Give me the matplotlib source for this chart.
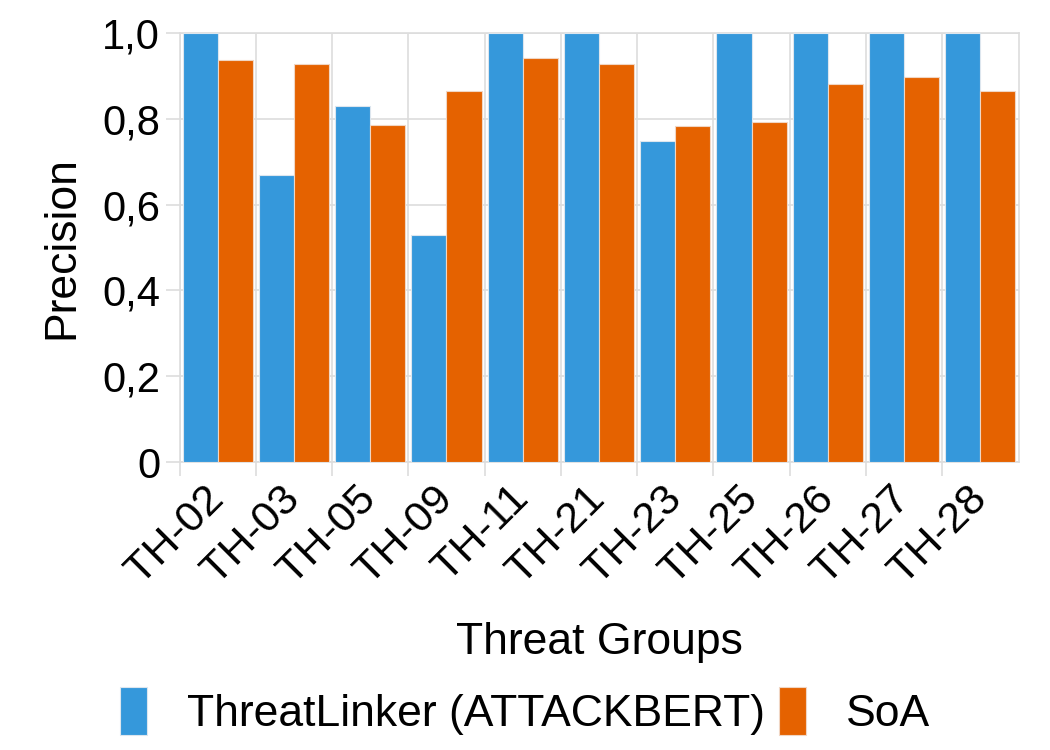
import matplotlib.pyplot as plt
import numpy as np

plt.rcParams['font.family'] = ['Liberation Sans', 'DejaVu Sans']

groups = ['TH-02', 'TH-03', 'TH-05', 'TH-09', 'TH-11', 'TH-21',
          'TH-23', 'TH-25', 'TH-26', 'TH-27', 'TH-28']
threatlinker = [1.0, 0.669, 0.830, 0.529, 1.0, 1.0, 0.748, 1.0, 1.0, 1.0, 1.0]
soa = [0.937, 0.928, 0.786, 0.865, 0.942, 0.928, 0.783, 0.793, 0.881, 0.897, 0.865]

blue = '#3598db'
orange = '#e56200'

fig = plt.figure(figsize=(10.5, 7.5), dpi=100)
ax = fig.add_axes([0.171, 0.384, 0.799, 0.572])

x = np.arange(len(groups))
w = 0.46
ax.bar(x - w / 2, threatlinker, w, color=blue, edgecolor='#dde6ee', linewidth=0.8,
       label='ThreatLinker (ATTACKBERT)', zorder=3)
ax.bar(x + w / 2, soa, w, color=orange, edgecolor='#f0d6c4', linewidth=0.8,
       label='SoA', zorder=3)

ax.set_xlim(-0.5, len(groups) - 0.5)
ax.set_ylim(0, 1.0)
ax.set_yticks([0, 0.2, 0.4, 0.6, 0.8, 1.0])
ax.set_yticklabels(['0', '0,2', '0,4', '0,6', '0,8', '1,0'], fontsize=30)

# grid lines between groups
ax.set_xticks(x - 0.5, minor=True)
ax.set_xticks(x)
ax.set_xticklabels(groups, rotation=45, ha='right', va='center',
                   rotation_mode='anchor', fontsize=31)
ax.tick_params(axis='x', which='major', length=0, pad=22)
ax.tick_params(axis='x', which='minor', length=10, color='#dddddd', width=1.2)
ax.tick_params(axis='y', length=10, color='#dddddd', width=1.2, pad=4)
ax.grid(True, axis='y', color='#dddddd', linewidth=1.2, zorder=0)
ax.grid(True, axis='x', which='minor', color='#dddddd', linewidth=1.2, zorder=0)

for s in ax.spines.values():
    s.set_color('#dddddd')
    s.set_linewidth(1.2)

ax.set_ylabel('Precision', fontsize=32, labelpad=14)
ax.set_xlabel('Threat Groups', fontsize=32, labelpad=22)

fig.legend(loc='lower center', bbox_to_anchor=(0.5, -0.022), ncol=2, frameon=False,
           fontsize=32, handlelength=0.62, handleheight=1.3, columnspacing=0.3,
           handletextpad=0.9, borderpad=0.2)

fig.savefig('out.png', dpi=100)
